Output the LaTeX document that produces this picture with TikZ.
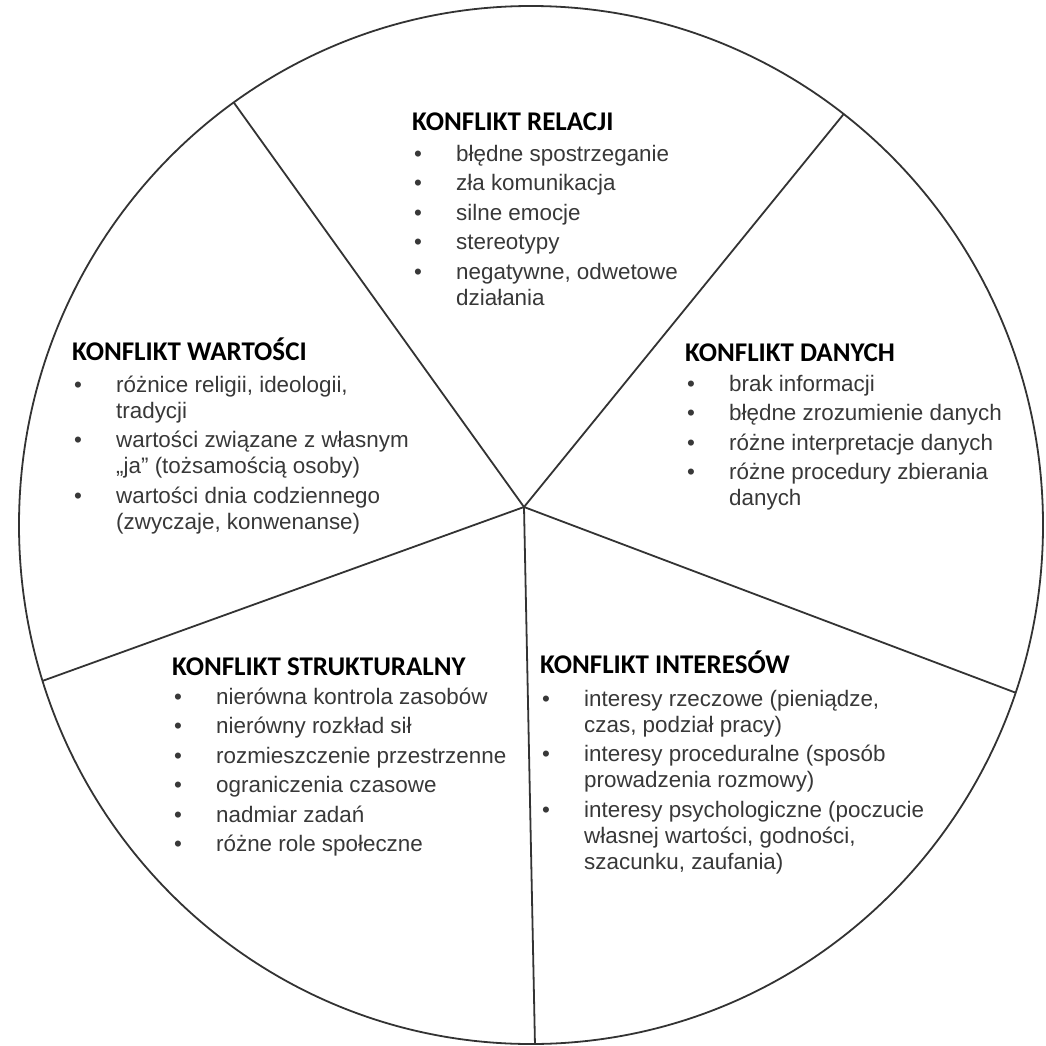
\documentclass[tikz,border=0pt]{standalone}
\usepackage{fontspec}
\setmainfont{Liberation Sans}
\newfontfamily\naglowek{Carlito}[BoldFont={Carlito Bold}]
\usetikzlibrary{calc}
\newcommand{\pkt}{\rule{0pt}{18pt}\makebox[44pt][l]{\hspace{2pt}•}}
\newcommand{\dalej}{\hspace*{44pt}}
\newcommand{\odst}{3.5pt}
\tikzset{
  kreska/.style={line width=1.8pt,black!80},
  tytul/.style={anchor=base west,inner sep=0pt,text=black,font=\naglowek\bfseries\fontsize{27}{30}\selectfont},
  lista/.style={anchor=north west,inner sep=0pt,align=left,text=black!78,font=\fontsize{22.4}{26}\selectfont}
}
\begin{document}
\begin{tikzpicture}[x=1pt,y=-1pt]
\fill[white] (0,0) rectangle (1045,1046);
\useasboundingbox (0,0) rectangle (1045,1046);
\coordinate (s) at (524,507);
\coordinate (a) at (237,107);
\coordinate (b) at (847,110);
\coordinate (c) at (45,680);
\coordinate (d) at (1027,697);
\coordinate (e) at (535,1046);
\begin{scope}
\clip (531,525) ellipse [x radius=512,y radius=519];
\foreach \k in {a,b,c,d,e} \draw[kreska] (s)--($(s)!1.3!(\k)$);
\end{scope}
\draw[kreska] (531,525) ellipse [x radius=512,y radius=519];

% naglowki na linii bazowej, listy od gornej krawedzi (baseline - 18)
\node[tytul] (relacje) at (412,131) {KONFLIKT RELACJI};
\node[lista] (relacje-l) at (412,143) {\pkt błędne spostrzeganie\\[\odst]
  \pkt zła komunikacja\\[\odst] \pkt silne emocje\\[\odst] \pkt stereotypy\\[\odst]
  \pkt negatywne, odwetowe\\ \dalej działania};

\node[tytul] (wartosci) at (72,360) {KONFLIKT WARTOŚCI};
\node[lista] (wartosci-l) at (72,374) {\pkt różnice religii, ideologii,\\ \dalej tradycji\\[\odst]
  \pkt wartości związane z własnym\\ \dalej „ja” (tożsamością osoby)\\[\odst]
  \pkt wartości dnia codziennego\\ \dalej (zwyczaje, konwenanse)};

\node[tytul] (dane) at (685,361) {KONFLIKT DANYCH};
\node[lista] (dane-l) at (685,373) {\pkt brak informacji\\[\odst]
  \pkt błędne zrozumienie danych\\[\odst] \pkt różne interpretacje danych\\[\odst]
  \pkt różne procedury zbierania\\ \dalej danych};

\node[tytul] (struktura) at (172,675) {KONFLIKT STRUKTURALNY};
\node[lista] (struktura-l) at (172,686) {\pkt nierówna kontrola zasobów\\[\odst]
  \pkt nierówny rozkład sił\\[\odst] \pkt rozmieszczenie przestrzenne\\[\odst]
  \pkt ograniczenia czasowe\\[\odst] \pkt nadmiar zadań\\[\odst] \pkt różne role społeczne};

\node[tytul] (interesy) at (540,673) {KONFLIKT INTERESÓW};
\node[lista] (interesy-l) at (540,688) {\pkt interesy rzeczowe (pieniądze,\\ \dalej czas, podział pracy)\\[\odst]
  \pkt interesy proceduralne (sposób\\ \dalej prowadzenia rozmowy)\\[\odst]
  \pkt interesy psychologiczne (poczucie\\ \dalej własnej wartości, godności,\\ \dalej szacunku, zaufania)};
\end{tikzpicture}
\end{document}
